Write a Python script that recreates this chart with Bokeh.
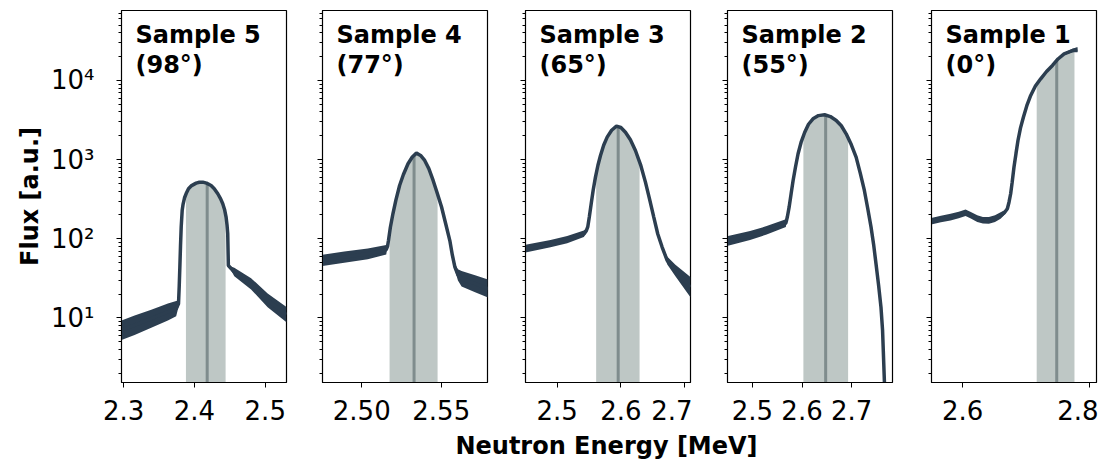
import numpy as np
from bokeh.plotting import figure
from bokeh.layouts import row, column
from bokeh.models import Range1d, FixedTicker, CustomJSTickFormatter, PrintfTickFormatter, Label
from bokeh.embed import file_html
from bokeh.resources import INLINE

# ---------------- data ----------------
titles = ["Sample 5", "Sample 4", "Sample 3", "Sample 2", "Sample 1"]
angles = ["(98°)", "(77°)", "(65°)", "(55°)", "(0°)"]
x_label = "Neutron Energy [MeV]"
y_label = "Flux [a.u.]"

s5_energy = [2.297, 2.3155, 2.339, 2.3625, 2.3742, 2.3775, 2.3785, 2.3794, 2.3803, 2.3813,
             2.3827, 2.384, 2.386, 2.389, 2.3916, 2.396, 2.4024, 2.407, 2.4118, 2.417,
             2.4235, 2.428, 2.433, 2.437, 2.440, 2.4425, 2.4447, 2.446, 2.447, 2.4479,
             2.4563, 2.480, 2.5034, 2.530]
s5_flux = [7.0, 8.1, 9.8, 11.9, 13.1, 15.1, 25, 44, 80, 141,
           229, 275, 330, 385, 429, 470, 505, 518, 520, 505,
           472, 430, 371, 320, 277, 235, 188, 150, 116, 46,
           38, 27, 16.7, 11.0]
s5_noise = [1.33, 1.33, 1.3, 1.28, 1.25, 1.1, 1, 1, 1, 1,
            1, 1, 1, 1, 1, 1, 1, 1, 1, 1,
            1, 1, 1, 1, 1, 1, 1, 1, 1, 1,
            1.13, 1.18, 1.22, 1.25]

s4_energy = [2.4753, 2.489, 2.5038, 2.5154, 2.5162, 2.5168, 2.518, 2.5196, 2.5215, 2.5238,
             2.5262, 2.5291, 2.5318, 2.5344, 2.537, 2.5396, 2.5422, 2.5449, 2.5476, 2.5502,
             2.5528, 2.5554, 2.557, 2.5586, 2.5605, 2.5628, 2.5713, 2.5797]
s4_flux = [53.4, 58.7, 64.6, 72.8, 80, 95, 140, 207, 310, 472,
           650, 887, 1080, 1208, 1130, 977, 770, 546, 370, 252,
           155, 95, 62, 44, 35, 31.3, 27.1, 23.4]
s4_noise = [1.18, 1.18, 1.17, 1.15, 1, 1, 1, 1, 1, 1,
            1, 1, 1, 1, 1, 1, 1, 1, 1, 1,
            1, 1, 1, 1.1, 1.18, 1.25, 1.28, 1.3]

s3_energy = [2.4502, 2.4895, 2.5157, 2.5418, 2.5455, 2.548, 2.5505, 2.5534, 2.5565, 2.5601,
             2.564, 2.568, 2.573, 2.5785, 2.5855, 2.5931, 2.600, 2.6072, 2.615, 2.6229,
             2.631, 2.6386, 2.645, 2.6517, 2.658, 2.6648, 2.6727, 2.6857, 2.7093]
s3_flux = [75, 86.7, 97.5, 116, 125, 141, 190, 277, 410, 601,
           850, 1130, 1520, 1923, 2350, 2650, 2550, 2220, 1780, 1306,
           860, 520, 320, 188, 115, 78.7, 53.4, 39.8, 24.5]
s3_noise = [1.12, 1.11, 1.11, 1.1, 1.08, 1, 1, 1, 1, 1,
            1, 1, 1, 1, 1, 1, 1, 1, 1, 1,
            1, 1, 1, 1, 1, 1.05, 1.12, 1.18, 1.34]

s2_energy = [2.4488, 2.4954, 2.5288, 2.5674, 2.5705, 2.574, 2.578, 2.582, 2.587, 2.592,
             2.598, 2.6054, 2.613, 2.622, 2.633, 2.6454, 2.657, 2.6688, 2.679, 2.6888,
             2.699, 2.7088, 2.717, 2.7254, 2.732, 2.7388, 2.744, 2.7488, 2.754, 2.7588,
             2.762, 2.766]
s2_flux = [93.5, 110, 128, 158, 190, 251, 370, 546, 820, 1186,
           1650, 2220, 2800, 3280, 3600, 3690, 3500, 3130, 2680, 2120,
           1550, 1077, 680, 408, 245, 141, 85, 48.4, 26, 13.7,
           7.0, 1.4]
s2_noise = [1.15, 1.14, 1.13, 1.12, 1, 1, 1, 1, 1, 1,
            1, 1, 1, 1, 1, 1, 1, 1, 1, 1,
            1, 1, 1, 1, 1, 1, 1, 1, 1, 1,
            1, 1]

s1_energy = [2.5507, 2.566, 2.5811, 2.594, 2.6047, 2.613, 2.6231, 2.632, 2.6414, 2.651,
             2.6598, 2.666, 2.6704, 2.673, 2.6756, 2.678, 2.6808, 2.684, 2.6871, 2.691,
             2.6956, 2.701, 2.7071, 2.7145, 2.7228, 2.732, 2.7413, 2.750, 2.7596, 2.7727,
             2.7806]
s1_flux = [167, 178, 188, 200, 214, 198, 180, 172, 171, 180,
           197, 215, 240, 290, 371, 520, 803, 1200, 1746, 2500,
           3440, 4800, 6470, 8500, 10500, 13000, 15500, 18700, 21700, 23900,
           24500]
s1_noise = [1.1, 1.1, 1.1, 1.1, 1.1, 1.1, 1.1, 1.1, 1.1, 1.1,
            1.1, 1.07, 1.05, 1, 1, 1, 1, 1, 1, 1,
            1, 1, 1, 1, 1, 1, 1, 1, 1.03, 1.05,
            1.08]

band_lo = [2.388, 2.5175, 2.5612, 2.6027, 2.7165]
band_center = [2.418, 2.5329, 2.5958, 2.6475, 2.748]
band_hi = [2.444, 2.5477, 2.6294, 2.6927, 2.7759]

x_limits = [(2.297, 2.530), (2.4753, 2.5791), (2.4502, 2.7094), (2.450, 2.782), (2.5512, 2.8105)]
x_tick_values = [[2.3, 2.4, 2.5], [2.50, 2.55], [2.5, 2.6, 2.7], [2.5, 2.6, 2.7], [2.6, 2.8]]
x_tick_formats = ["%.1f", "%.2f", "%.1f", "%.1f", "%.1f"]
y_limits = (1.53, 76600)

energies = [s5_energy, s4_energy, s3_energy, s2_energy, s1_energy]
fluxes = [s5_flux, s4_flux, s3_flux, s2_flux, s1_flux]
noises = [s5_noise, s4_noise, s3_noise, s2_noise, s1_noise]

# ---------------- styling ----------------
CURVE = "#2c3e50"
BAND = "#bec7c5"
CENTER = "#7f8c8d"
FONT = "DejaVu Sans"
left_borders = [121, 34, 36, 35, 37]
FRAME_W, FRAME_H = 165, 372
TOP, BOTTOM = 10, 48

sup_formatter = CustomJSTickFormatter(code="""
const sup = {"0":"\u2070","1":"\u00b9","2":"\u00b2","3":"\u00b3","4":"\u2074",
             "5":"\u2075","6":"\u2076","7":"\u2077","8":"\u2078","9":"\u2079","-":"\u207b"};
const e = Math.round(Math.log10(tick));
return "10" + String(e).split("").map(c => sup[c]).join("");
""")
blank_formatter = CustomJSTickFormatter(code="return '';")

yr = Range1d(*y_limits)
figs = []
for i in range(5):
    p = figure(frame_width=FRAME_W, frame_height=FRAME_H, y_axis_type="log",
               x_range=Range1d(*x_limits[i]), y_range=yr,
               output_backend="svg", toolbar_location=None,
               min_border_left=left_borders[i], min_border_right=2,
               min_border_top=TOP, min_border_bottom=BOTTOM)
    p.grid.visible = False
    p.outline_line_color = "black"
    p.outline_line_width = 1.2
    p.background_fill_color = "white"
    p.border_fill_color = "white"

    x = np.array(energies[i], dtype=float)
    y = np.array(fluxes[i], dtype=float)
    n = np.array(noises[i], dtype=float)
    logy = np.log10(y)

    # shaded band under the curve
    lo, hi, c = band_lo[i], band_hi[i], band_center[i]
    inside = x[(x > lo) & (x < hi)]
    bx = np.concatenate([[lo], inside, [hi]])
    by = 10 ** np.interp(bx, x, logy)
    p.varea(x=bx, y1=np.full_like(bx, 1e-3), y2=by, fill_color=BAND, fill_alpha=1.0)
    yc = 10 ** np.interp(c, x, logy)
    p.segment(x0=[c], y0=[1e-3], x1=[c], y1=[yc], line_color=CENTER, line_width=3)

    # noisy spread and curve
    p.varea(x=x, y1=y / n, y2=y * n, fill_color=CURVE)
    p.line(x, y, line_color=CURVE, line_width=3.5)

    # axes
    xa = p.xaxis[0]
    xa.ticker = FixedTicker(ticks=x_tick_values[i])
    xa.formatter = PrintfTickFormatter(format=x_tick_formats[i])
    xa.major_label_text_font = FONT
    xa.major_label_text_font_size = "26px"
    xa.major_label_text_color = "black"
    xa.major_label_standoff = 12
    xa.major_tick_in = 0
    xa.major_tick_out = 5
    xa.minor_tick_line_color = None
    xa.axis_line_color = "black"
    xa.major_tick_line_color = "black"

    ya = p.yaxis[0]
    ya.major_tick_in = 0
    ya.major_tick_out = 5
    ya.minor_tick_in = 0
    ya.minor_tick_out = 3
    ya.axis_line_color = "black"
    ya.major_tick_line_color = "black"
    ya.minor_tick_line_color = "black"
    if i == 0:
        ya.formatter = sup_formatter
        ya.major_label_text_font = FONT
        ya.major_label_text_font_size = "26px"
        ya.major_label_text_color = "black"
        ya.major_label_standoff = 22
        ya.axis_label = y_label
        ya.axis_label_text_font = FONT
        ya.axis_label_text_font_style = "bold"
        ya.axis_label_text_font_size = "24px"
        ya.axis_label_text_color = "black"
        ya.axis_label_standoff = 4
    else:
        ya.formatter = blank_formatter

    p.add_layout(Label(x=14, y=348, x_units="screen", y_units="screen", text=titles[i],
                       text_font=FONT, text_font_style="bold", text_font_size="24px",
                       text_color="black", text_baseline="alphabetic"))
    p.add_layout(Label(x=14, y=318, x_units="screen", y_units="screen", text=angles[i],
                       text_font=FONT, text_font_style="bold", text_font_size="24px",
                       text_color="black", text_baseline="alphabetic"))
    figs.append(p)

# shared x-axis label underneath all panels
lab = figure(width=1098, height=30, x_range=Range1d(0, 1), y_range=Range1d(0, 1),
             output_backend="svg", toolbar_location=None,
             min_border_left=0, min_border_right=0, min_border_top=0, min_border_bottom=0)
lab.axis.visible = False
lab.grid.visible = False
lab.outline_line_color = None
lab.add_layout(Label(x=606, y=1, x_units="screen", y_units="screen", text=x_label,
                     text_font=FONT, text_font_style="bold", text_font_size="24px",
                     text_color="black", text_align="center", text_baseline="bottom"))

layout = column(row(*figs), lab)
open("out.html", "w").write(file_html(layout, INLINE))
